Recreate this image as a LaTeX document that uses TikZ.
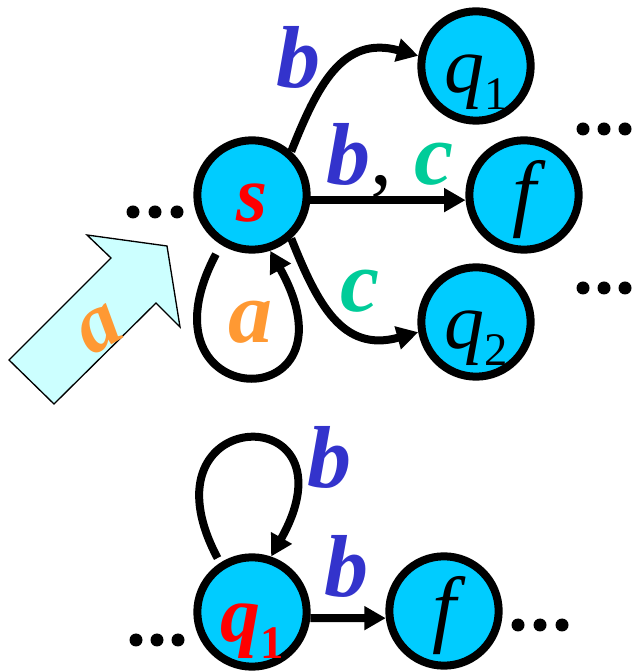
\documentclass[tikz,border=0pt]{standalone}
\usepackage{fontspec}
\setmainfont{Liberation Serif}
\usetikzlibrary{arrows.meta}
\definecolor{nodecyan}{HTML}{00CCFF}
\definecolor{arrowcyan}{HTML}{CCFFFF}
\definecolor{lblblue}{HTML}{3333CC}
\definecolor{lblgreen}{HTML}{00CC99}
\definecolor{lblorange}{HTML}{FF9933}
\definecolor{stred}{HTML}{FF0000}
\newcommand{\ntext}[2][20pt]{\makebox[0pt]{\raisebox{-#1}[0pt][0pt]{#2}}}
\newcommand{\bigsz}{\fontsize{60}{60}\selectfont}
\newcommand{\subsz}{\fontsize{35}{35}\selectfont}
\begin{document}
\begin{tikzpicture}[x=0.75pt,y=0.75pt,
  state/.style={circle, draw=black, line width=6pt, fill=nodecyan, minimum size=82pt, inner sep=0pt},
  edge/.style={line width=6pt, -{Triangle[length=16pt,width=17pt]}},
  lbl/.style={anchor=base, inner sep=0pt, font=\fontsize{66}{66}\selectfont\bfseries\itshape},
  dotmark/.style={fill=black}]
\useasboundingbox (0,0) rectangle (635,671);

% big input arrow
\filldraw[fill=arrowcyan, draw=black, line width=1pt, line join=miter]
  (9,311) -- (54,267) -- (156,368) -- (180,344) -- (167,425) -- (87,436) -- (111,413) -- cycle;
\node (arrowlbl) [rotate=30, inner sep=0pt, text=lblorange, font=\fontsize{62}{62}\selectfont\bfseries\itshape] at (100,341) {a};

% top automaton
\node[state] (s) at (252,476) {\ntext[20pt]{\bigsz\bfseries\itshape\color{stred}s}};
\node[state] (q1) at (476,605) {\ntext{\bigsz\itshape q\subsz\upshape\raisebox{-13pt}{1}}};
\node[state] (f) at (524,476) {\ntext[19pt]{\fontsize{64}{64}\selectfont\itshape f}};
\node[state] (q2) at (476,349) {\ntext{\bigsz\itshape q\subsz\upshape\raisebox{-13pt}{2}}};

\draw[edge] (s.48) .. controls +(26,65) and +(-76,21) .. (q1.170);
\draw[edge] (s.-5) -- (f.185);
\draw[edge] (s.-48) .. controls +(26,-65) and +(-76,-21) .. (q2.190);
\draw[edge, shorten <=8pt] (s.-122) .. controls +(-90,-170) and +(95,-170) .. (s.-72);

\node[lbl, text=lblblue] (lb1) at (298,583) {b};
\node[lbl] (lbc) at (390,486) {\textcolor{lblblue}{b}{\normalfont\fontsize{66}{66}\selectfont,} \textcolor{lblgreen}{c}};
\node[lbl, text=lblgreen] (lc) at (360,359) {c};
\node[lbl, text=lblorange] (la) at (250,328) {a};

% dots top part
\foreach \x in {133,155,177} \fill[dotmark] (\x,459) circle (6.5);
\foreach \x in {583,604,625} \fill[dotmark] (\x,542) circle (6.5);
\foreach \x in {583,604,625} \fill[dotmark] (\x,383) circle (6.5);

% bottom automaton
\node[state] (q1b) at (252,59) {\ntext[22pt]{\bigsz\bfseries\itshape\color{stred}q\subsz\upshape\raisebox{-13pt}{1}}};
\node[state] (fb) at (444,60) {\ntext[19pt]{\fontsize{64}{64}\selectfont\itshape f}};

\draw[edge, shorten <=4pt] (q1b.123) .. controls +(-85,160) and +(90,160) .. (q1b.71);
\draw[edge] (q1b.-6) -- (fb.187);

\node[lbl, text=lblblue] (lb2) at (329,183) {b};
\node[lbl, text=lblblue] (lb3) at (346,74) {b};

\foreach \x in {136,157,178} \fill[dotmark] (\x,31) circle (6.5);
\foreach \x in {518,540,562} \fill[dotmark] (\x,46) circle (6.5);
\end{tikzpicture}
\end{document}
